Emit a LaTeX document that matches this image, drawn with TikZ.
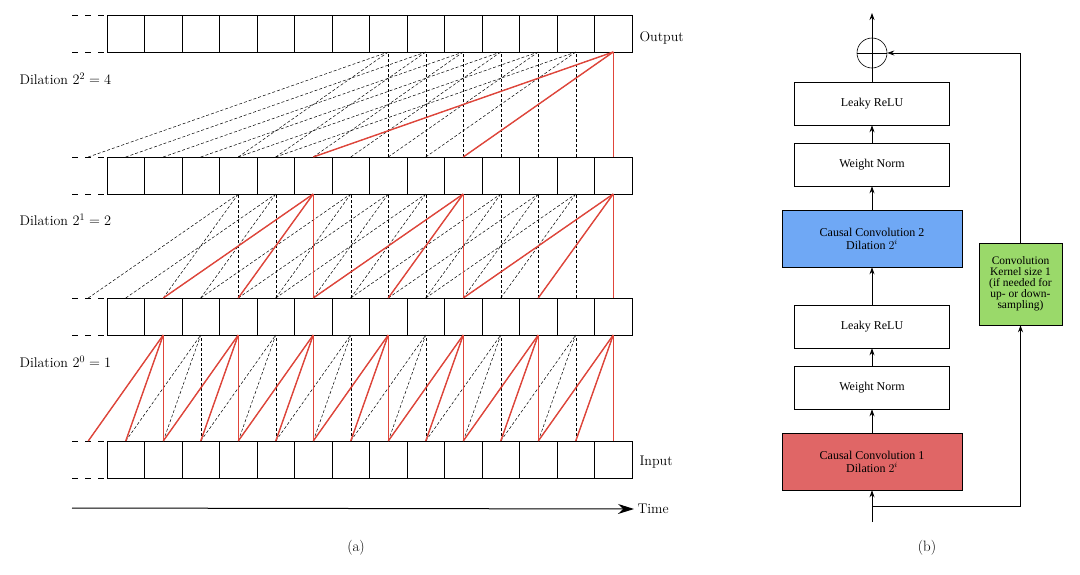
\documentclass[tikz,border=0pt]{standalone}
\usepackage{fontspec}
\newfontfamily\tms{Liberation Serif}
\usetikzlibrary{arrows.meta}
\definecolor{rd}{HTML}{E0453A}
\definecolor{bl}{HTML}{6FA8F5}
\definecolor{rb}{HTML}{E06666}
\definecolor{gr}{HTML}{9AD96A}
\begin{document}
\begin{tikzpicture}[x=1pt,y=-1pt,
  cell/.style={draw,line width=0.8pt},
  dsh/.style={dashed,line width=0.5pt,dash pattern=on 3pt off 2pt},
  red/.style={rd,line width=1.4pt},
  lbl/.style={font=\fontsize{14}{16}\selectfont,anchor=west},
  box/.style={draw,line width=0.6pt,minimum width=155pt,minimum height=43pt,font=\tms\fontsize{12}{13}\selectfont,align=center},
  cbox/.style={box,minimum width=180pt,minimum height=57pt},
  arr/.style={-{Stealth[length=7pt,width=5pt]},line width=0.8pt}]
\useasboundingbox (0,0) rectangle (1080,574);
% rows: top y values
\foreach \r/\t in {0/15,1/157,2/298,3/441}{
  \pgfmathsetmacro\b{\t+37}
  \foreach \i in {0,...,13}{
    \draw[cell] ({107+37.5*\i},\t) rectangle ({107+37.5*(\i+1)},\b);
  }
  \draw[dsh,line width=0.8pt,dash pattern=on 6pt off 7pt] (72,\t) -- (107,\t);
  \draw[dsh,line width=0.8pt,dash pattern=on 6pt off 7pt] (72,\b) -- (107,\b);
  \foreach \i in {-1,...,13}{\coordinate (t\r-\i) at ({125.75+37.5*\i},\t);}
  \foreach \i in {0,...,13}{\coordinate (b\r-\i) at ({125.75+37.5*\i},\b);}
}
% dashed connections: layer from row s (source, top) to row s-1 (bottom)
\foreach \s/\o/\d in {3/2/1,2/1/2,1/0/4}{
  \foreach \j in {0,...,13}{
    \pgfmathtruncatemacro\ok{\j-2*\d>=-1 ? 1 : 0}
    \ifnum\ok=1
      \foreach \k in {0,1,2}{
        \pgfmathtruncatemacro\src{\j-\k*\d}
        \draw[dsh] (t\s-\src) -- (b\o-\j);
      }
    \fi
  }
}
% red paths
\foreach \j in {1,3,5,7,9,11,13}{
  \pgfmathtruncatemacro\a{\j-1}\pgfmathtruncatemacro\c{\j-2}
  \draw[red] (t3-\j) -- (b2-\j); \draw[red] (t3-\a) -- (b2-\j); \draw[red] (t3-\c) -- (b2-\j);
}
\foreach \j in {5,9,13}{
  \pgfmathtruncatemacro\a{\j-2}\pgfmathtruncatemacro\c{\j-4}
  \draw[red] (t2-\j) -- (b1-\j); \draw[red] (t2-\a) -- (b1-\j); \draw[red] (t2-\c) -- (b1-\j);
}
\draw[red] (t1-13) -- (b0-13); \draw[red] (t1-9) -- (b0-13); \draw[red] (t1-5) -- (b0-13);
% labels
\node[lbl] (l2) at (16,79) {Dilation $2^2=4$};
\node[lbl] (l1) at (16,220) {Dilation $2^1=2$};
\node[lbl] (l0) at (16,362) {Dilation $2^0=1$};
\node[lbl] (out) at (636,38) {Output};
\node[lbl] (inp) at (636,462) {Input};
\coordinate (ts) at (72,508);
\node[lbl] (time) at (634,509) {Time};
\draw[-{Stealth[length=16pt,width=10pt]},line width=1pt] (ts) -- (time.west);
\node[font=\fontsize{15}{17}\selectfont] (ca) at (356,548) {(a)};
\node[font=\fontsize{15}{17}\selectfont] (cb) at (927,548) {(b)};
% right panel
\node[circle,draw,line width=0.6pt,minimum size=30pt,inner sep=0pt] (plus) at (872,53) {};
\draw[line width=0.5pt] (plus.north) -- (plus.south) (plus.west) -- (plus.east);
\coordinate (top) at (872,13);
\node[box] (lr2) at (872,103.5) {Leaky ReLU};
\node[box] (wn2) at (872,164.5) {Weight Norm};
\node[cbox,fill=bl] (cc2) at (872,238.5) {Causal Convolution 2\\Dilation $2^i$};
\node[box] (lr1) at (872,326.5) {Leaky ReLU};
\node[box] (wn1) at (872,387.5) {Weight Norm};
\node[cbox,fill=rb] (cc1) at (872,461.5) {Causal Convolution 1\\Dilation $2^i$};
\node[draw,fill=gr,line width=0.6pt,minimum width=83pt,minimum height=82pt,inner sep=1pt,align=center,font=\tms\fontsize{11.5}{11}\selectfont] (gk) at (1020.5,284) {Convolution\\Kernel size 1\\(if needed for\\up- or down-\\sampling)};
\coordinate (in) at (872,522);
\coordinate (br) at (872,506);
\draw[arr] (plus) -- (top);
\draw[line width=0.8pt] (lr2) -- (plus);
\draw[arr] (wn2) -- (lr2);
\draw[arr] (cc2) -- (wn2);
\draw[arr] (lr1) -- (cc2);
\draw[arr] (wn1) -- (lr1);
\draw[arr] (cc1) -- (wn1);
\draw[arr] (in) -- (cc1);
\draw[arr] (br) -| (gk.south);
\draw[arr] (gk.north) |- (plus.east);
\end{tikzpicture}
\end{document}
